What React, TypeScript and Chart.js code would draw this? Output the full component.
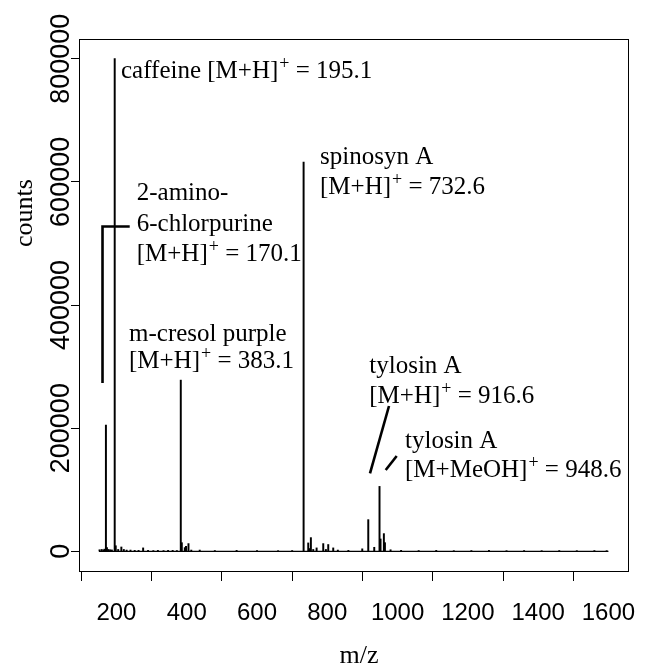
import React, { useEffect, useRef } from 'react';
import { Chart, registerables } from 'chart.js';

Chart.register(...registerables);

// ---- data ----
const peakMz = [
  152, 158, 163, 166, 170.1, 173, 177, 182, 187, 195.1, 198, 205, 214, 221, 229, 240, 252, 263, 276, 290,
  305, 318, 334, 347, 360, 372, 383.1, 386, 394.5, 398, 405, 413, 437, 480, 542, 600, 660, 700,
  732.6, 745.8, 749, 753.3, 760, 769.6, 788.5, 796, 802.7, 816.9, 830, 860, 899.5, 916.6, 933.6,
  948.6, 951.5, 961, 964, 980, 1010, 1060, 1110, 1160, 1210, 1260, 1310, 1360, 1410, 1460, 1510, 1560, 1595,
];
const peakCounts = [
  2500, 3000, 2200, 3500, 205000, 6000, 3000, 2500, 2200, 800000, 9000, 3000, 7000, 3000, 2000, 2000, 1500, 1500, 5500, 1500,
  1200, 1500, 1200, 1500, 1500, 1200, 278000, 14000, 6000, 8000, 12500, 2000, 2000, 1200, 1500, 1000, 1000, 1200,
  632000, 13600, 4500, 22200, 3000, 5500, 12500, 3000, 11000, 5500, 2000, 1500, 4000, 51400, 6500,
  105400, 20000, 28700, 14000, 2500, 1500, 1200, 1500, 1000, 1200, 1500, 1000, 1200, 1000, 1200, 1000, 1200, 1000,
];
const baselineMz = [150, 1600];
const baselineCounts = [0, 0];

const xTicks = [200, 400, 600, 800, 1000, 1200, 1400, 1600];
const yTicks = [0, 200000, 400000, 600000, 800000];
const xMin = 93.5;
const xMax = 1658.5;
const yMin = -32000;
const yMax = 832000;

const xTitle = 'm/z';
const yTitle = 'counts';

// annotation connector lines (m/z, counts)
const bracketMz = [160.4, 160.4, 237.8];
const bracketCounts = [273300, 527500, 527500];
const tylosinLine1Mz = [921.5, 975.6];
const tylosinLine1Counts = [126700, 236000];
const tylosinLine2Mz = [966.2, 997.5];
const tylosinLine2Counts = [132050, 154800];

// annotation texts: '^' marks the following char as superscript
const annText = [
  'caffeine [M+H]^+ = 195.1',
  'spinosyn A',
  '[M+H]^+ = 732.6',
  '2-amino-',
  '6-chlorpurine',
  '[M+H]^+ = 170.1',
  'm-cresol purple',
  '[M+H]^+ = 383.1',
  'tylosin A',
  '[M+H]^+ = 916.6',
  'tylosin A',
  '[M+MeOH]^+ = 948.6',
];
const annMz = [213, 779.3, 779.3, 257.7, 257.7, 257.7, 235.8, 235.8, 919.5, 919.5, 1021.1, 1021.1];
const annCounts = [768700, 629000, 580300, 570500, 520200, 471500, 341500, 297700, 289600, 240800, 167800, 120700];

const SANS = '"Liberation Sans", Arial, Helvetica, sans-serif';
const SERIF = '"Liberation Serif", "Times New Roman", serif';

function drawRich(ctx: CanvasRenderingContext2D, text: string, x: number, y: number, size: number) {
  let cx = x;
  ctx.textAlign = 'left';
  ctx.textBaseline = 'alphabetic';
  for (let i = 0; i < text.length; i++) {
    const ch = text[i];
    if (ch === '^' && i + 1 < text.length) {
      const s = text[i + 1];
      ctx.font = `${Math.round(size * 0.7)}px ${SERIF}`;
      ctx.fillText(s, cx + 1, y - size * 0.36);
      cx += ctx.measureText(s).width + 1;
      i++;
    } else {
      let j = i;
      let seg = '';
      while (j < text.length && text[j] !== '^') {
        seg += text[j];
        j++;
      }
      ctx.font = `${size}px ${SERIF}`;
      ctx.fillText(seg, cx, y);
      cx += ctx.measureText(seg).width;
      i = j - 1;
    }
  }
}

const decorPlugin = {
  id: 'decor',
  afterDraw(chart: any) {
    const ctx: CanvasRenderingContext2D = chart.ctx;
    const { left, right, top, bottom } = chart.chartArea;
    const xs = chart.scales.x;
    const ys = chart.scales.y;
    ctx.save();
    // box
    ctx.strokeStyle = '#000';
    ctx.lineWidth = 1;
    ctx.strokeRect(left + 0.5, top + 0.5, right - left - 1, bottom - top);
    // y tick labels, rotated
    ctx.fillStyle = '#000';
    ctx.font = `27px ${SANS}`;
    yTicks.forEach((v) => {
      const py = ys.getPixelForValue(v);
      ctx.save();
      ctx.translate(68.5, py);
      ctx.rotate(-Math.PI / 2);
      ctx.textAlign = 'center';
      ctx.textBaseline = 'alphabetic';
      ctx.fillText(String(v), 0, 0);
      ctx.restore();
    });
    // axis titles
    ctx.font = `26px ${SERIF}`;
    ctx.save();
    ctx.translate(32, 213);
    ctx.rotate(-Math.PI / 2);
    ctx.textAlign = 'center';
    ctx.textBaseline = 'alphabetic';
    ctx.fillText(yTitle, 0, 0);
    ctx.restore();
    ctx.textAlign = 'center';
    ctx.textBaseline = 'alphabetic';
    ctx.fillText(xTitle, (left + right) / 2 + 5, 663);
    // annotations
    annText.forEach((t, i) => {
      drawRich(ctx, t, xs.getPixelForValue(annMz[i]), ys.getPixelForValue(annCounts[i]), 25);
    });
    ctx.restore();
  },
};

const toXY = (xs: number[], ys: number[]) => xs.map((x, i) => ({ x, y: ys[i] }));

export default function App() {
  const ref = useRef<HTMLCanvasElement | null>(null);
  useEffect(() => {
    if (!ref.current) return;
    const lineDs = (xs: number[], ys: number[], w: number) => ({
      type: 'line' as const,
      data: toXY(xs, ys),
      borderColor: '#000',
      borderWidth: w,
      pointRadius: 0,
      fill: false,
      tension: 0,
    });
    const chart = new Chart(ref.current, {
      type: 'bar',
      data: {
        datasets: [
          {
            type: 'bar',
            data: toXY(peakMz, peakCounts),
            backgroundColor: '#000',
            borderWidth: 0,
            barThickness: 1.3,
          } as any,
          lineDs(baselineMz, baselineCounts, 1.2),
          lineDs(bracketMz, bracketCounts, 2.6),
          lineDs(tylosinLine1Mz, tylosinLine1Counts, 2.6),
          lineDs(tylosinLine2Mz, tylosinLine2Counts, 2.6),
        ],
      },
      plugins: [decorPlugin],
      options: {
        responsive: false,
        maintainAspectRatio: false,
        animation: false,
        layout: { padding: { left: 0, top: 39, right: 22, bottom: 0 } },
        plugins: { legend: { display: false }, tooltip: { enabled: false } },
        scales: {
          x: {
            type: 'linear',
            min: xMin,
            max: xMax,
            offset: false,
            afterBuildTicks: (s: any) => {
              s.ticks = xTicks.map((v) => ({ value: v }));
            },
            afterFit: (s: any) => {
              s.height = 101;
              s.paddingLeft = 0;
              s.paddingRight = 0;
            },
            grid: { drawOnChartArea: false, drawTicks: true, tickLength: 10, color: '#000', lineWidth: 1 },
            border: { display: false },
            ticks: {
              color: '#000',
              font: { family: SANS, size: 24 },
              padding: 18,
              maxRotation: 0,
              minRotation: 0,
              autoSkip: false,
              callback: (v: any) => String(v),
            },
          },
          y: {
            type: 'linear',
            min: yMin,
            max: yMax,
            afterBuildTicks: (s: any) => {
              s.ticks = yTicks.map((v) => ({ value: v }));
            },
            afterFit: (s: any) => {
              s.width = 79;
              s.paddingTop = 0;
              s.paddingBottom = 0;
            },
            grid: { drawOnChartArea: false, drawTicks: true, tickLength: 8, color: '#000', lineWidth: 1 },
            border: { display: false },
            ticks: { display: false },
          },
        },
      } as any,
    });
    return () => chart.destroy();
  }, []);
  return (
    <div style={{ position: 'fixed', left: 0, top: 0, width: 651, height: 672, background: '#fff' }}>
      <canvas ref={ref} width={651} height={672} style={{ width: 651, height: 672, display: 'block' }} />
    </div>
  );
}
